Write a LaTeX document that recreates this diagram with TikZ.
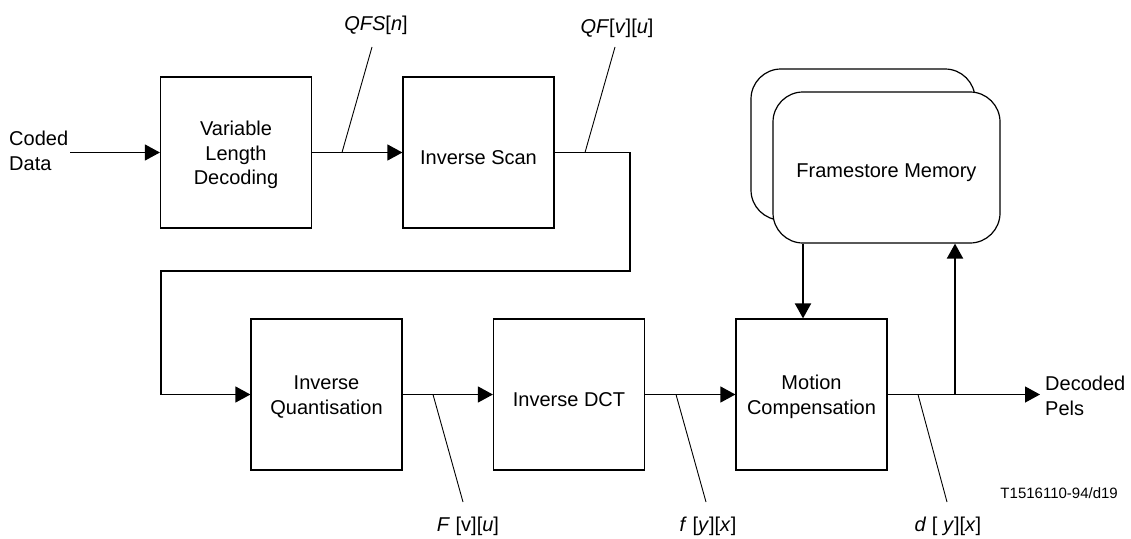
\documentclass[tikz,border=0pt]{standalone}
\usepackage{fontspec}
\setmainfont{Liberation Sans}
\usetikzlibrary{arrows.meta}
\begin{document}
\begin{tikzpicture}[x=1pt,y=-1pt,
  blk/.style={draw, line width=1.2pt, minimum width=151pt, minimum height=151pt, inner sep=0pt},
  bt/.style={inner sep=0pt, align=center, font=\fontsize{20}{24.5}\selectfont},
  one/.style={bt, yshift=-5pt},
  two/.style={bt, yshift=-2.5pt},
  mem/.style={draw, fill=white, line width=1.2pt, rounded corners=30pt, minimum width=226pt, minimum height=151pt, inner sep=0pt},
  arr/.style={line width=1.2pt, -{Triangle[length=15pt,width=16pt]}},
  tarr/.style={line width=2pt, -{Triangle[length=15pt,width=16pt]}},
  lead/.style={line width=0.9pt},
  lbl/.style={inner sep=0pt, font=\fontsize{20}{24.5}\selectfont},
  txt/.style={inner sep=0pt, align=left, font=\fontsize{20}{24.5}\selectfont}
]
\useasboundingbox (0,0) rectangle (1131,538);
% blocks
\node[blk, label={[two]center:Variable\\Length\\Decoding}] (vld) at (236,152.5) {};
\node[blk, label={[one]center:Inverse Scan}] (is) at (478.5,152.5) {};
\node[blk, label={[two]center:Inverse\\Quantisation}] (iq) at (326.5,394.5) {};
\node[blk, label={[one]center:Inverse DCT}] (idct) at (569,394.5) {};
\node[blk, label={[two]center:Motion\\Compensation}] (mc) at (811.5,394.5) {};
% framestore
\node[mem, minimum width=224pt] (fmb) at (863,144.5) {};
\node[mem, minimum width=227pt, label={[one]center:Framestore Memory}] (fm) at (886.5,167.5) {};
% external texts
\node[txt, anchor=west] (cd) at (9,151) {Coded\\Data};
\node[txt, anchor=west] (dp) at (1045,396) {Decoded\\Pels};
\node[inner sep=0pt, anchor=east, font=\fontsize{15}{18}\selectfont] (ref) at (1118,493) {T1516110-94/d19};
% coordinates
\coordinate (in) at (70,152.5);
\coordinate (c1) at (630,271);
\coordinate (c2) at (161,271);
\coordinate (dx) at (803,0);
\coordinate (j) at (955,394.5);
\coordinate (out) at (1040,394.5);
% connectors
\draw[arr] (in) -- (vld.west);
\draw[arr] (vld.east) -- (is.west);
\draw[arr] (is.east) -| (c1) -- (c2) |- (iq.west);
\draw[arr] (iq.east) -- (idct.west);
\draw[arr] (idct.east) -- (mc.west);
\draw[arr] (mc.east) -- (out);
\draw[tarr] (fm.south -| dx) -- (mc.north -| dx);
\draw[tarr] (j) -- (fm.south -| j);
% leader labels
\node[lbl] (l1) at (376,25) {\textit{QFS}[\textit{n}]};
\node[lbl] (l2) at (617,28) {\textit{QF}[\textit{v}][\textit{u}]};
\node[lbl] (l3) at (468,526) {\textit{F} [v][\textit{u}]};
\node[lbl] (l4) at (708,526) {\textit{f} [\textit{y}][\textit{x}]};
\node[lbl] (l5) at (948,526) {\textit{d} [ \textit{y}][\textit{x}]};
\coordinate (a1) at (372,47);  \coordinate (b1) at (342,152.5);
\coordinate (a2) at (615,47);  \coordinate (b2) at (585,152.5);
\coordinate (a3) at (463,502); \coordinate (b3) at (433,394.5);
\coordinate (a4) at (706,502); \coordinate (b4) at (676,394.5);
\coordinate (a5) at (947,502); \coordinate (b5) at (918,394.5);
\draw[lead] (a1) -- (b1);
\draw[lead] (a2) -- (b2);
\draw[lead] (a3) -- (b3);
\draw[lead] (a4) -- (b4);
\draw[lead] (a5) -- (b5);
\end{tikzpicture}
\end{document}
